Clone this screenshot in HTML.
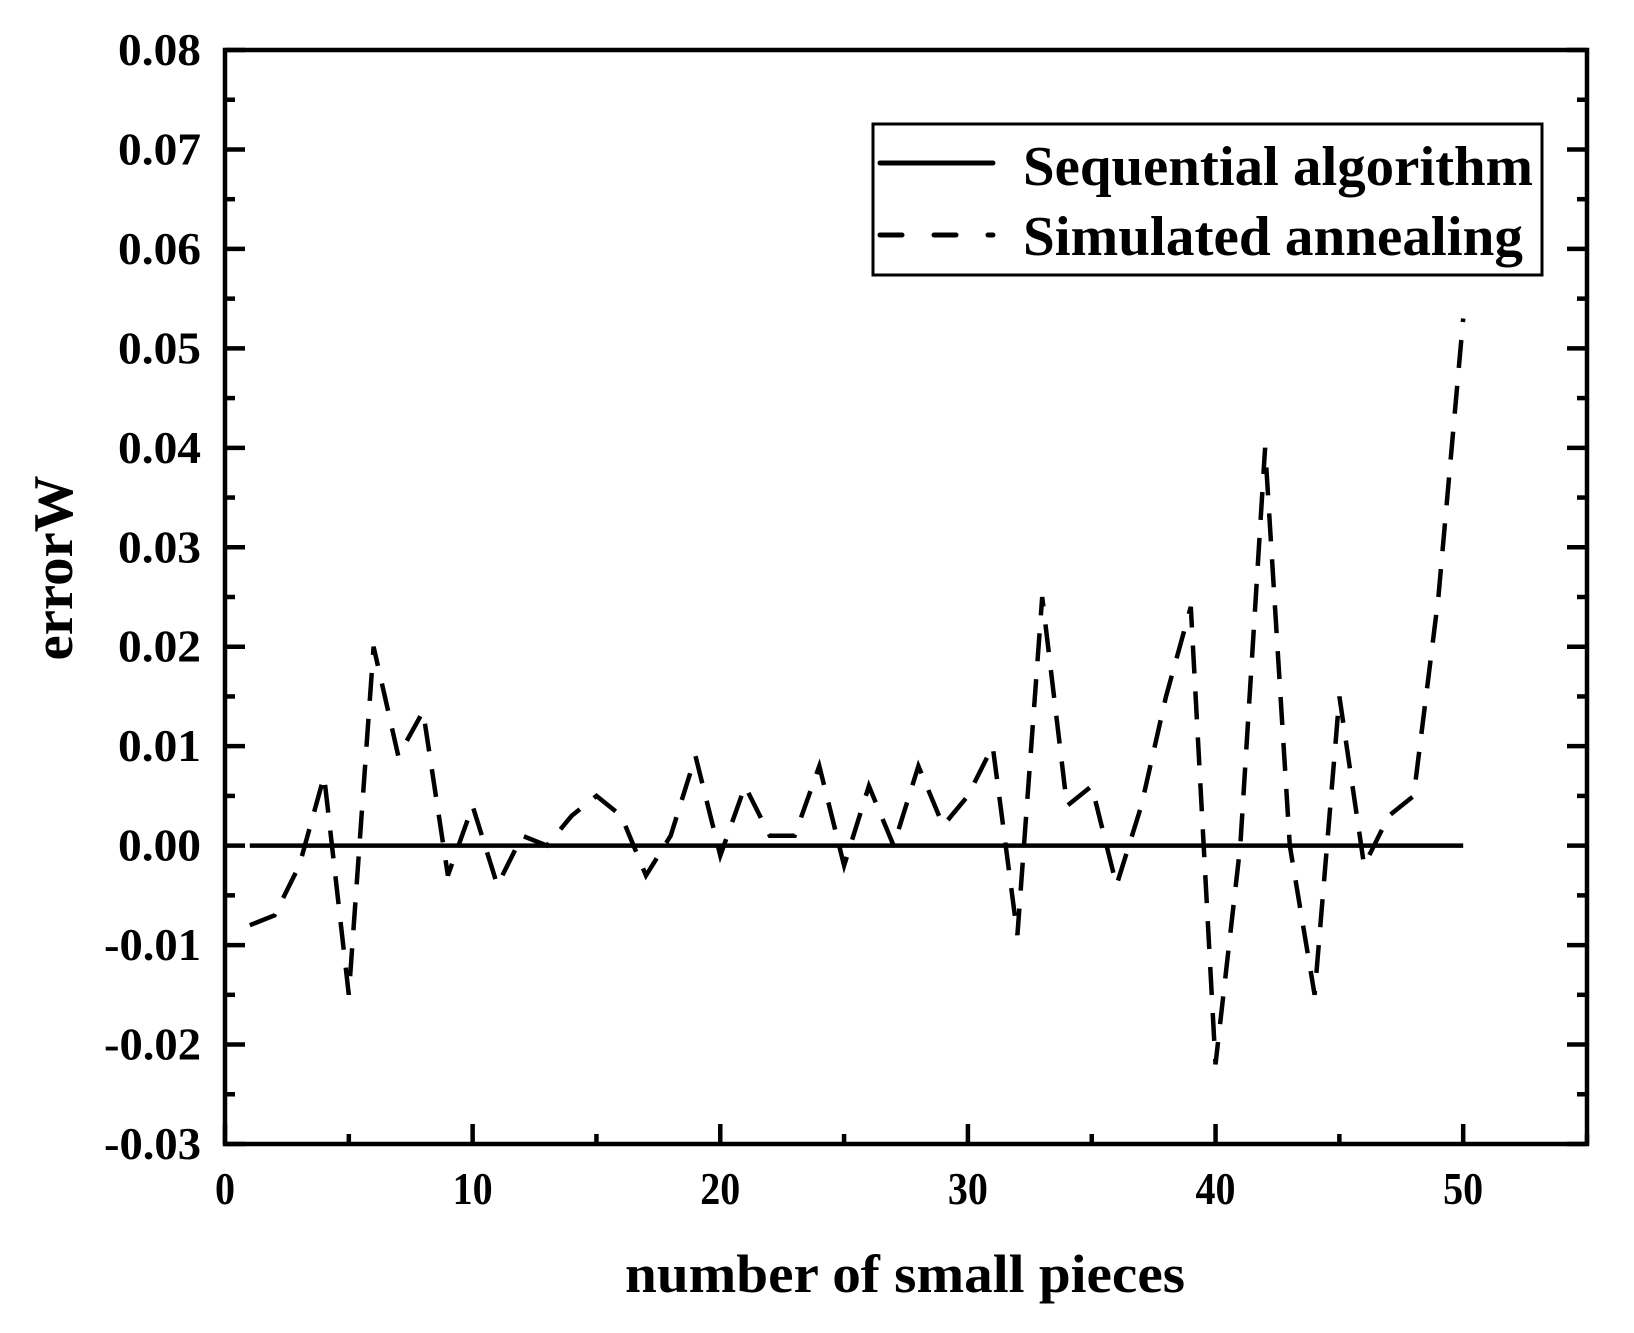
<!DOCTYPE html>
<html><head><meta charset="utf-8"><style>
html,body{margin:0;padding:0;background:#fff;}
svg{display:block;}
text{font-family:"Liberation Serif",serif;font-weight:bold;fill:#000;}
</style></head><body>
<svg id="chart" width="1634" height="1333" viewBox="0 0 1634 1333" xmlns="http://www.w3.org/2000/svg">
<g id="ticks"></g>
<g id="series"></g>
<rect x="225" y="50" width="1362" height="1094" fill="none" stroke="#000" stroke-width="4.5"/>
<g id="labels"></g>
<text x="905" y="1292" font-size="54" text-anchor="middle" textLength="560" lengthAdjust="spacingAndGlyphs">number of small pieces</text>
<text transform="translate(72,568) rotate(-90)" font-size="56" text-anchor="middle" textLength="185" lengthAdjust="spacingAndGlyphs">errorW</text>
<g>
<rect x="873" y="124" width="669" height="151" fill="#fff" stroke="#000" stroke-width="3"/>
<line x1="880" y1="163" x2="993" y2="163" stroke="#000" stroke-width="5" stroke-linecap="round"/>
<line x1="880" y1="235" x2="993" y2="235" stroke="#000" stroke-width="5" stroke-linecap="round" stroke-dasharray="22,32"/>
<text x="1023" y="185" font-size="56" textLength="510" lengthAdjust="spacingAndGlyphs">Sequential algorithm</text>
<text x="1023" y="255" font-size="56" textLength="500" lengthAdjust="spacingAndGlyphs">Simulated annealing</text>
</g>
</svg>
<script>
const xs = [1,2,3,4,5,6,7,8,9,10,11,12,13,14,15,16,17,18,19,20,21,22,23,24,25,26,27,28,29,30,31,32,33,34,35,36,37,38,39,40,41,42,43,44,45,46,47,48,49,50];
const annealing = [-0.008,-0.007,-0.002,0.007,-0.015,0.020,0.009,0.0135,-0.003,0.004,-0.004,0.001,0.000,0.003,0.005,0.003,-0.003,0.001,0.009,-0.001,0.006,0.001,0.001,0.008,-0.002,0.006,0.000,0.008,0.002,0.005,0.010,-0.009,0.025,0.004,0.006,-0.004,0.004,0.015,0.024,-0.022,0.000,0.040,0.000,-0.015,0.015,-0.002,0.003,0.005,0.025,0.053];
const sequential = [0,0,0,0,0,0,0,0,0,0,0,0,0,0,0,0,0,0,0,0,0,0,0,0,0,0,0,0,0,0,0,0,0,0,0,0,0,0,0,0,0,0,0,0,0,0,0,0,0,0];
const xTicks = [0,10,20,30,40,50];
const xTickLabels = ["0","10","20","30","40","50"];
const yTicks = [-0.03,-0.02,-0.01,0,0.01,0.02,0.03,0.04,0.05,0.06,0.07,0.08];
const yTickLabels = ["-0.03","-0.02","-0.01","0.00","0.01","0.02","0.03","0.04","0.05","0.06","0.07","0.08"];

const X0=225,X1=1587,Y0=1144,Y1=50;
const sx = v => X0 + (v-0)/(55-0)*(X1-X0);
const sy = v => Y0 - (v+0.03)/(0.11)*(Y0-Y1);
const NS="http://www.w3.org/2000/svg";
const tg=document.getElementById('ticks'), lg=document.getElementById('labels'), sg=document.getElementById('series');
function ln(x1,y1,x2,y2,name){const l=document.createElementNS(NS,'line');
l.setAttribute('x1',x1);l.setAttribute('y1',y1);l.setAttribute('x2',x2);l.setAttribute('y2',y2);
l.setAttribute('stroke','#000');l.setAttribute('stroke-width','4.5');


tg.appendChild(l);}
for(let v=0; v<=55; v+=5){const x=sx(v);const L=(v%10===0)?20:10;ln(x,Y0,x,Y0-L,'x-tick');}
for(let i=0;i<=22;i++){const v=-0.03+i*0.005;const y=sy(v);const L=(i%2===0)?20:10;
ln(X0,y,X0+L,y,'y-tick-left');ln(X1,y,X1-L,y,'y-tick-right');}
xTicks.forEach((v,i)=>{const t=document.createElementNS(NS,'text');
t.setAttribute('x',sx(v));t.setAttribute('y',1204);t.setAttribute('font-size','46');t.setAttribute('text-anchor','middle');
t.setAttribute('textLength', xTickLabels[i].length*20);t.setAttribute('lengthAdjust','spacingAndGlyphs');
t.textContent=xTickLabels[i];


lg.appendChild(t);});
yTicks.forEach((v,i)=>{const t=document.createElementNS(NS,'text');
t.setAttribute('x',201);t.setAttribute('y',sy(v)+15);t.setAttribute('font-size','46');t.setAttribute('text-anchor','end');
t.setAttribute('textLength', yTickLabels[i][0]==='-'?97:83);t.setAttribute('lengthAdjust','spacingAndGlyphs');
t.textContent=yTickLabels[i];


lg.appendChild(t);});
function path(vals,dash,name){const p=document.createElementNS(NS,'path');
p.setAttribute('d',vals.map((v,i)=>(i?'L':'M')+sx(xs[i]).toFixed(1)+','+sy(v).toFixed(1)).join(''));
p.setAttribute('fill','none');p.setAttribute('stroke','#000');p.setAttribute('stroke-width','4.5');
if(dash)p.setAttribute('stroke-dasharray',dash);


sg.appendChild(p);}
path(sequential,null,'sequential-algorithm-line');
path(annealing,'28,18','simulated-annealing-line');
</script>
</body></html>
